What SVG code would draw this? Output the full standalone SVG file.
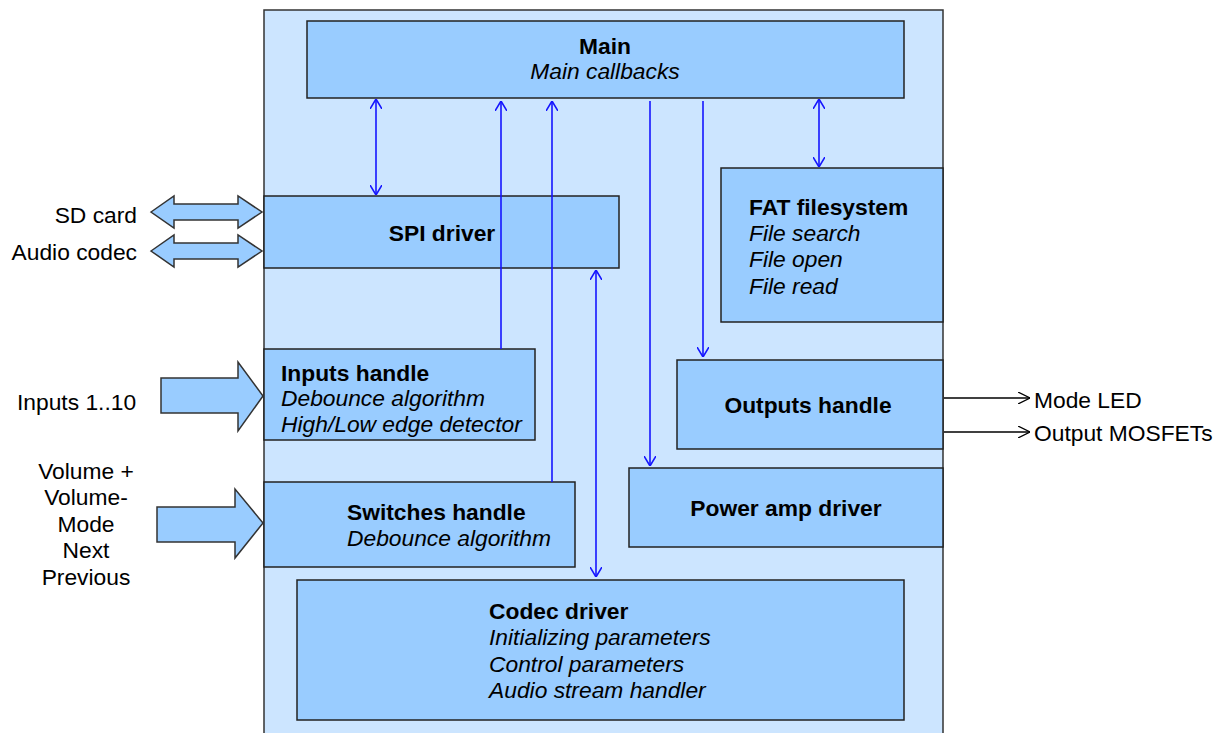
<svg xmlns="http://www.w3.org/2000/svg" width="1226" height="733" viewBox="0 0 1226 733">
<style>
text{font-family:"Liberation Sans",Arial,sans-serif;font-size:22.8px;fill:#000}
.b{font-weight:bold}
.i{font-style:italic}
.m{text-anchor:middle}
.e{text-anchor:end}
.box{fill:#99ccff;stroke:#222;stroke-width:1.5}
.blk{fill:#99ccff;stroke:#333;stroke-width:1.5;stroke-linejoin:miter}
.c{stroke:#1515ff;stroke-width:1.6;fill:none}
.k{stroke:#000;stroke-width:1.3;fill:none}
</style>
<defs>
<marker id="v" viewBox="0 0 10 12" refX="10" refY="6" markerWidth="10" markerHeight="12" markerUnits="userSpaceOnUse" orient="auto-start-reverse">
<path d="M0,0 L10,6 L0,12" fill="none" stroke="#1515ff" stroke-width="1.6"/>
</marker>
<marker id="vk" viewBox="0 0 12 12" refX="12" refY="6" markerWidth="12" markerHeight="12" markerUnits="userSpaceOnUse" orient="auto">
<path d="M0,0 L12,6 L0,12" fill="none" stroke="#000" stroke-width="1.3"/>
</marker>
</defs>
<rect width="1226" height="733" fill="#fff"/>
<g id="container">
<rect x="264" y="10" width="679" height="740" fill="#cce5ff" stroke="#333" stroke-width="1.5"/>
</g>
<g id="main">
<rect class="box" x="307" y="21" width="597" height="77"/>
<text class="b m" x="605" y="54">Main</text>
<text class="i m" x="605" y="79">Main callbacks</text>
</g>
<g id="spi">
<rect class="box" x="264" y="196" width="355" height="72"/>
<text class="b m" x="442" y="241">SPI driver</text>
</g>
<g id="fat">
<rect class="box" x="721" y="168" width="222" height="154"/>
<text class="b" x="749" y="215">FAT filesystem</text>
<text class="i" x="749" y="241">File search</text>
<text class="i" x="749" y="267">File open</text>
<text class="i" x="749" y="294">File read</text>
</g>
<g id="inputs">
<rect class="box" x="264" y="349" width="271" height="91"/>
<text class="b" x="281" y="381">Inputs handle</text>
<text class="i" x="281" y="406">Debounce algorithm</text>
<text class="i" x="281" y="432">High/Low edge detector</text>
</g>
<g id="outputs">
<rect class="box" x="677" y="360" width="266" height="89"/>
<text class="b m" x="808" y="413">Outputs handle</text>
</g>
<g id="switches">
<rect class="box" x="264" y="482" width="311" height="85"/>
<text class="b" x="347" y="520">Switches handle</text>
<text class="i" x="347" y="546">Debounce algorithm</text>
</g>
<g id="poweramp">
<rect class="box" x="629" y="468" width="314" height="79"/>
<text class="b m" x="786" y="516">Power amp driver</text>
</g>
<g id="codec">
<rect class="box" x="297" y="580" width="607" height="140"/>
<text class="b" x="489" y="619">Codec driver</text>
<text class="i" x="489" y="645">Initializing parameters</text>
<text class="i" x="489" y="672">Control parameters</text>
<text class="i" x="489" y="698">Audio stream handler</text>
</g>
<g id="external">
<path class="blk" d="M151,212 L174,196 L174,204 L238,204 L238,196 L262,212 L238,228 L238,220 L174,220 L174,228 Z"/>
<path class="blk" d="M151,251 L174,235 L174,243 L238,243 L238,235 L262,251 L238,267 L238,259 L174,259 L174,267 Z"/>
<path class="blk" d="M161,378 L238,378 L238,362 L263,396 L238,431 L238,413 L161,413 Z"/>
<path class="blk" d="M157,507 L235,507 L235,489 L263,523 L235,558 L235,542 L157,542 Z"/>
<text class="e" x="137" y="223">SD card</text>
<text class="e" x="137" y="260">Audio codec</text>
<text x="17" y="410">Inputs 1..10</text>
<text class="m" x="86" y="479">Volume +</text>
<text class="m" x="86" y="505">Volume-</text>
<text class="m" x="86" y="532">Mode</text>
<text class="m" x="86" y="558">Next</text>
<text class="m" x="86" y="585">Previous</text>
<text x="1034" y="408">Mode LED</text>
<text x="1034" y="441">Output MOSFETs</text>
</g>
<g id="connectors">
<path class="c" d="M376,99 L376,195" marker-start="url(#v)" marker-end="url(#v)"/>
<path class="c" d="M501,349 L501,101" marker-end="url(#v)"/>
<path class="c" d="M552,482 L552,101" marker-end="url(#v)"/>
<path class="c" d="M650,101 L650,466" marker-end="url(#v)"/>
<path class="c" d="M703,101 L703,357" marker-end="url(#v)"/>
<path class="c" d="M819,99 L819,167" marker-start="url(#v)" marker-end="url(#v)"/>
<path class="c" d="M596,270 L596,577" marker-start="url(#v)" marker-end="url(#v)"/>
<path class="k" d="M944,398 L1030,398" marker-end="url(#vk)"/>
<path class="k" d="M944,432 L1030,432" marker-end="url(#vk)"/>
</g>
</svg>
